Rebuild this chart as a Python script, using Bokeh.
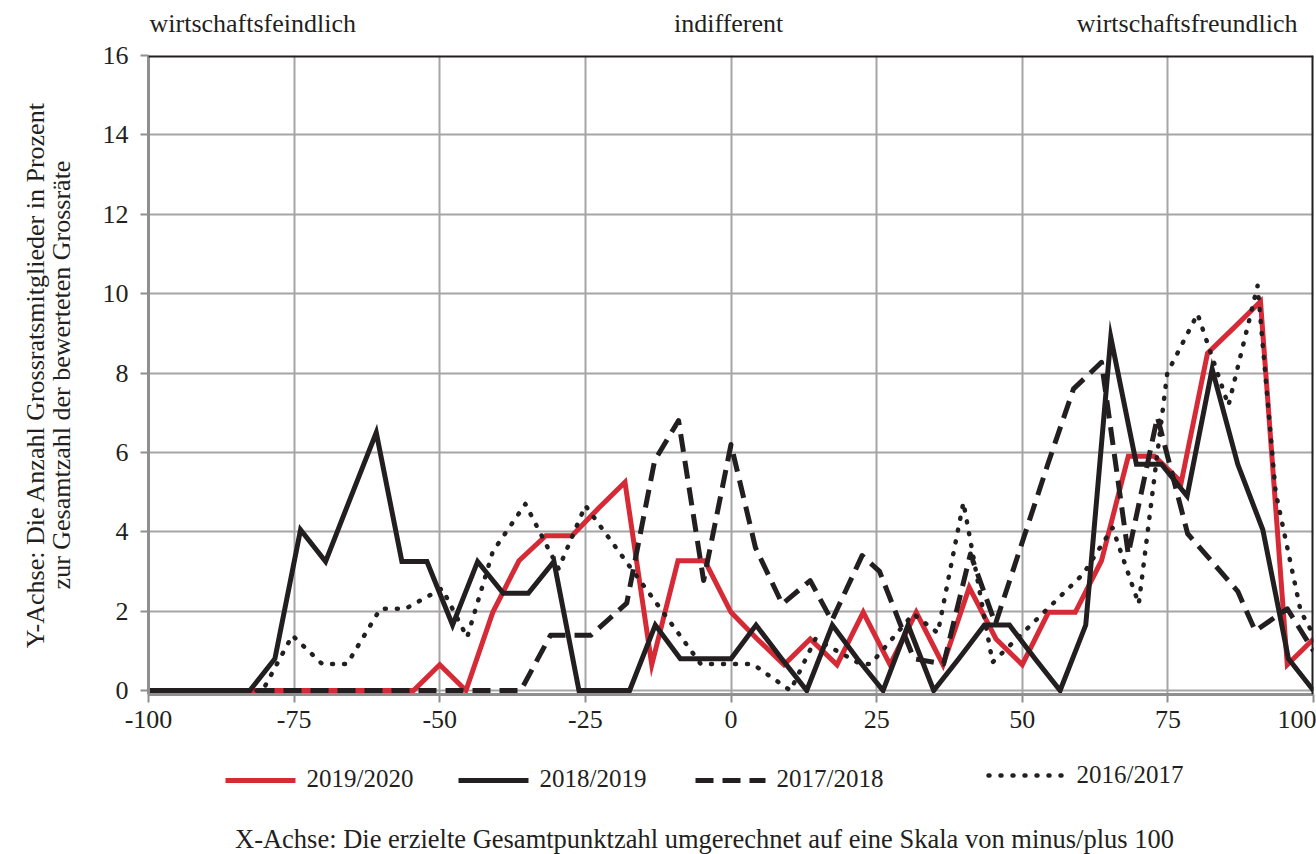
from bokeh.plotting import figure
from bokeh.layouts import column
from bokeh.models import Range1d, FixedTicker, Span, LinearAxis
from bokeh.core.properties import value
from bokeh.embed import file_html
from bokeh.resources import INLINE

# ---------------- data ----------------
series_names = ["2019/2020", "2018/2019", "2017/2018", "2016/2017"]

x_2019_2020 = [-100, -95.5, -90.9, -86.4, -81.8, -77.3, -72.7, -68.2, -63.6, -59.1,
               -54.5, -50.0, -45.5, -40.9, -36.4, -31.8, -27.3, -22.7, -18.2, -13.6,
               -9.1, -4.5, 0, 4.5, 9.1, 13.6, 18.2, 22.7, 27.3, 31.8,
               36.4, 40.9, 45.5, 50.0, 54.5, 59.1, 63.6, 68.2, 72.7, 77.3,
               81.8, 86.4, 90.9, 95.5, 100]
y_2019_2020 = [0, 0, 0, 0, 0, 0, 0, 0, 0, 0,
               0, 0.65, 0, 1.97, 3.27, 3.9, 3.9, 4.6, 5.25, 0.65,
               3.27, 3.27, 1.97, 1.3, 0.65, 1.3, 0.65, 1.97, 0.65, 1.97,
               0.65, 2.6, 1.3, 0.65, 1.97, 1.97, 3.27, 5.9, 5.9, 5.25,
               8.5, 9.15, 9.8, 0.65, 1.3]

x_2018_2019 = [-100, -95.7, -91.3, -87.0, -82.6, -78.3, -73.9, -69.6, -65.2, -60.9,
               -56.5, -52.2, -47.8, -43.5, -39.1, -34.8, -30.4, -26.1, -21.7, -17.4,
               -13.0, -8.7, -4.3, 0, 4.3, 8.7, 13.0, 17.4, 21.7, 26.1,
               30.4, 34.8, 39.1, 43.5, 47.8, 52.2, 56.5, 60.9, 65.2, 69.6,
               73.9, 78.3, 82.6, 87.0, 91.3, 95.7, 100]
y_2018_2019 = [0, 0, 0, 0, 0, 0.8, 4.05, 3.25, 4.9, 6.5,
               3.25, 3.25, 1.65, 3.25, 2.45, 2.45, 3.25, 0, 0, 0,
               1.65, 0.8, 0.8, 0.8, 1.65, 0.8, 0, 1.65, 0.8, 0,
               1.65, 0, 0.8, 1.65, 1.65, 0.8, 0, 1.65, 8.9, 5.7,
               5.7, 4.9, 8.1, 5.7, 4.05, 0.8, 0]

x_2017_2018 = [-100, -36.1, -31.0, -24.1, -17.9, -13.1, -9.0, -4.7, 0, 4.2,
               8.8, 13.6, 17.3, 22.5, 25.5, 31.4, 36.5, 41.1, 45.4, 54.5,
               58.8, 63.6, 68.2, 73.2, 78.4, 87.0, 90.0, 95.5, 100]
y_2017_2018 = [0, 0, 1.39, 1.39, 2.2, 5.8, 6.8, 2.77, 6.2, 3.6,
               2.18, 2.77, 1.76, 3.4, 3.0, 0.8, 0.67, 3.44, 1.68, 5.75,
               7.6, 8.27, 3.44, 6.89, 3.95, 2.5, 1.5, 2.06, 1.0]

x_2016_2017 = [-100, -80.4, -75.3, -70.2, -65.9, -60.2, -55.9, -49.6, -45.3, -40.9,
               -35.3, -29.6, -25.0, -5.2, 3.7, 10.2, 14.5, 22.2, 24.0, 31.3,
               35.5, 39.9, 44.9, 60.5, 65.5, 70.0, 74.9, 80.1, 85.4, 90.4,
               93.5, 97.8, 100]
y_2016_2017 = [0, 0, 1.39, 0.67, 0.67, 2.06, 2.06, 2.57, 1.34, 3.5,
               4.7, 3.07, 4.66, 0.67, 0.67, 0, 1.3, 0.67, 0.67, 1.93,
               1.45, 4.74, 0.71, 2.94, 4.1, 2.18, 8.0, 9.49, 7.18, 10.2,
               5.0, 2.0, 1.4]

x_ticks = [-100, -75, -50, -25, 0, 25, 50, 75, 100]
x_tick_labels = ["-100", "-75", "-50", "-25", "0", "25", "50", "75", "100"]
y_ticks = [0, 2, 4, 6, 8, 10, 12, 14, 16]
y_tick_labels = ["0", "2", "4", "6", "8", "10", "12", "14", "16"]

top_label_pos = [-82.1, -0.4, 78.3]
top_labels = ["wirtschaftsfeindlich", "indifferent", "wirtschaftsfreundlich"]
y_label_1 = "Y-Achse: Die Anzahl Grossratsmitglieder in Prozent"
y_label_2 = "zur Gesamtzahl der bewerteten Grossräte"
x_label = "X-Achse: Die erzielte Gesamtpunktzahl umgerechnet auf eine Skala von minus/plus 100"

# ---------------- styles ----------------
FONT = "Liberation Serif"
INK = "#231f20"
RED = "#d62a36"
GRID = "#a5a5a5"
AXIS = "#8f8f8f"
FS = "26px"

W = 1316
H_MAIN = 750
H_FOOT = 104
FRAME_L, FRAME_R = 148, 1313   # page pixels of the plot frame

styles = [
    dict(line_color=RED, line_width=5, line_join="miter"),
    dict(line_color=INK, line_width=5, line_join="miter"),
    dict(line_color=INK, line_width=5, line_dash="18 9", line_join="round"),
    dict(line_color=INK, line_width=4.5, line_dash="1 11", line_cap="round",
         line_join="round"),
]

p = figure(width=W, height=H_MAIN, output_backend="svg", toolbar_location=None,
           x_range=Range1d(-100, 100), y_range=Range1d(-0.1, 16),
           min_border_left=FRAME_L, min_border_right=W - FRAME_R, min_border_top=55,
           min_border_bottom=56, outline_line_color=None,
           background_fill_color="white", border_fill_color="white")

p.xaxis.ticker = FixedTicker(ticks=x_ticks)
p.yaxis.ticker = FixedTicker(ticks=y_ticks)
p.xaxis.major_label_overrides = {t: s for t, s in zip(x_ticks, x_tick_labels)}
p.yaxis.major_label_overrides = {t: s for t, s in zip(y_ticks, y_tick_labels)}
for ax in (p.xaxis, p.yaxis):
    ax.axis_line_color = AXIS
    ax.axis_line_width = 3
    ax.major_tick_line_color = AXIS
    ax.major_tick_line_width = 2
    ax.major_tick_out = 8
    ax.major_tick_in = 0
    ax.minor_tick_line_color = None
    ax.major_label_text_font = FONT
    ax.major_label_text_font_size = FS
    ax.major_label_text_color = INK
p.xaxis.major_label_standoff = 8
p.yaxis.major_label_standoff = 12

p.xgrid.ticker = FixedTicker(ticks=x_ticks)
p.ygrid.ticker = FixedTicker(ticks=y_ticks)
p.grid.grid_line_color = GRID
p.grid.grid_line_width = 2

xs_all = [x_2019_2020, x_2018_2019, x_2017_2018, x_2016_2017]
ys_all = [y_2019_2020, y_2018_2019, y_2017_2018, y_2016_2017]
for xs, ys, st in zip(xs_all, ys_all, styles):
    p.line(xs, ys, **st)

p.add_layout(Span(location=16, dimension="width", line_color=INK, line_width=4))
p.add_layout(Span(location=100, dimension="height", line_color=INK, line_width=4))


def text_axis(label="", standoff=0, ticks=(), overrides=None, label_standoff=0):
    ax = LinearAxis(ticker=FixedTicker(ticks=list(ticks)), axis_line_color=None,
                    major_tick_out=0, major_tick_in=0, minor_tick_out=0, minor_tick_in=0,
                    major_tick_line_color=None, minor_tick_line_color=None,
                    major_label_standoff=label_standoff,
                    major_label_text_font=FONT, major_label_text_font_size=FS,
                    major_label_text_color=INK,
                    axis_label_text_font=FONT, axis_label_text_font_size=FS,
                    axis_label_text_font_style="normal", axis_label_text_color=INK,
                    axis_label_standoff=standoff)
    if label:
        ax.axis_label = label
    if overrides:
        ax.major_label_overrides = overrides
    return ax


# top texts as an axis above the frame
p.add_layout(text_axis(ticks=top_label_pos,
                       overrides={t: s for t, s in zip(top_label_pos, top_labels)},
                       label_standoff=18), "above")

# y titles: two lines as two label-only axes on the left
p.add_layout(text_axis(label=y_label_2, standoff=24), "left")
p.add_layout(text_axis(label=y_label_1, standoff=-6), "left")

# ---------------- footer: legend + x title ----------------
# footer coordinates: x = page pixels (frame aligned with the main plot),
# y = pixels measured downward from the top of the footer
f = figure(width=W, height=H_FOOT, output_backend="svg", toolbar_location=None,
           x_range=Range1d(FRAME_L, FRAME_R), y_range=Range1d(H_FOOT, 0),
           x_axis_type=None, y_axis_type=None, min_border=0,
           min_border_left=FRAME_L, min_border_right=W - FRAME_R,
           outline_line_color=None, background_fill_color="white",
           border_fill_color="white")
f.grid.visible = False

leg_line_x0 = [225, 458, 695, 988]
leg_line_x1 = [295, 528, 765, 1068]
leg_line_y = [30, 30, 30, 25]
leg_text_x = [306, 539, 776, 1076]
leg_text_y = [28, 28, 28, 24]
for x0, x1, yy, st in zip(leg_line_x0, leg_line_x1, leg_line_y, styles):
    f.line([x0, x1], [yy, yy], **st)
f.text(x=leg_text_x, y=leg_text_y, text=series_names, text_font=value(FONT),
       text_font_size=value("25px"), text_color=INK, text_align="left",
       text_baseline="alphabetic")
f.text(x=[704], y=[88], text=[x_label], text_font=value(FONT),
       text_font_size=value("26.5px"), text_color=INK, text_align="center",
       text_baseline="alphabetic")

layout = column(p, f, spacing=0)
open("out.html", "w").write(file_html(layout, INLINE))
